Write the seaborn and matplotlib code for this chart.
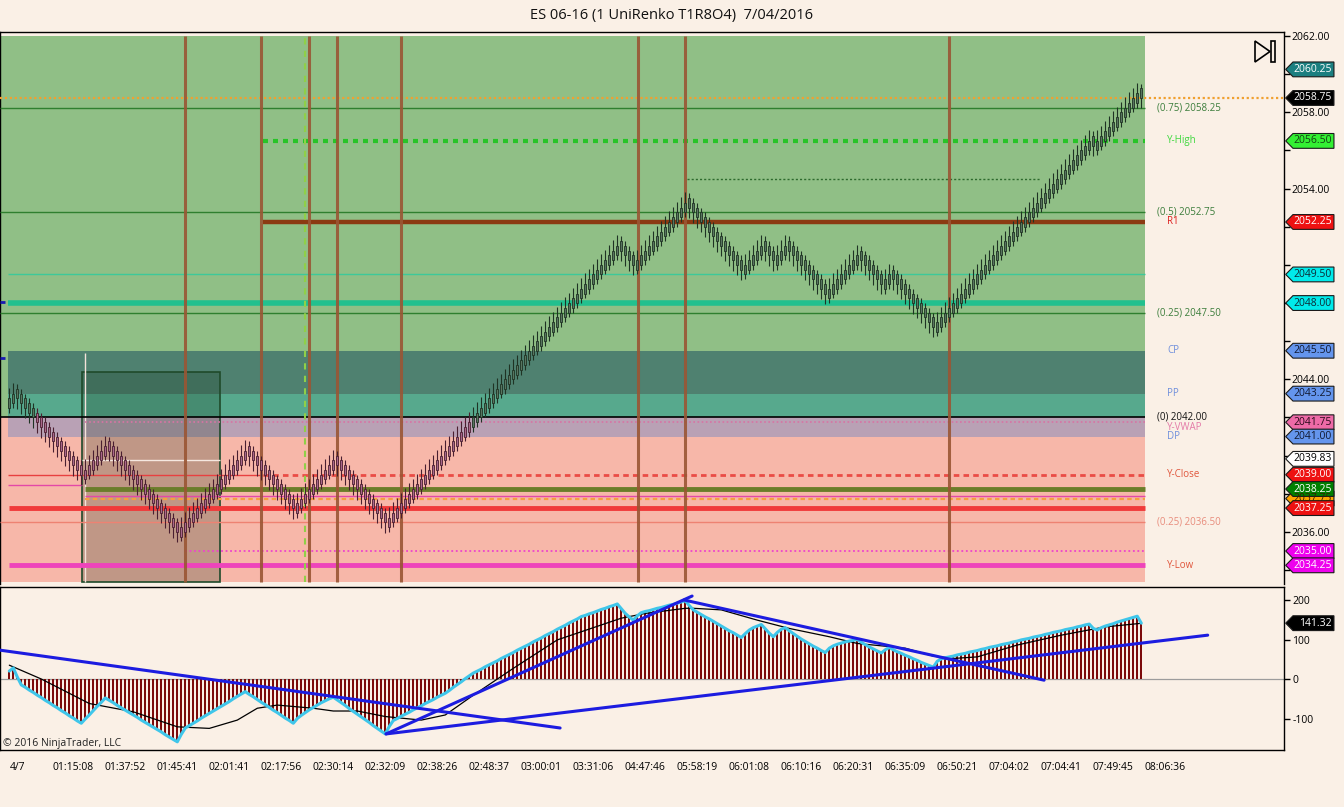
import numpy as np
import pandas as pd
import seaborn as sns
import matplotlib
matplotlib.use("Agg")
import matplotlib.pyplot as plt
from matplotlib.patches import Polygon, Rectangle
from matplotlib import transforms

TITLE = "ES 06-16 (1 UniRenko T1R8O4)  7/04/2016"

# renko closes, one per bar
closes = [
    2043.00, 2043.25,
    2043.00, 2042.75, 2042.50, 2042.25, 2042.00, 2041.75, 2041.50, 2041.25, 2041.00, 2040.75,
    2040.50, 2040.25, 2040.00, 2039.75, 2039.50, 2039.25, 2039.00,
    2039.25, 2039.50, 2039.75, 2040.00, 2040.25, 2040.50,
    2040.25, 2040.00, 2039.75, 2039.50, 2039.25, 2039.00, 2038.75, 2038.50, 2038.25, 2038.00,
    2037.75, 2037.50, 2037.25, 2037.00, 2036.75, 2036.50, 2036.25, 2036.00,
    2036.25, 2036.50, 2036.75, 2037.00, 2037.25, 2037.50, 2037.75, 2038.00, 2038.25, 2038.50,
    2038.75, 2039.00, 2039.25, 2039.50, 2039.75, 2040.00, 2040.25,
    2040.00, 2039.75, 2039.50, 2039.25, 2039.00, 2038.75, 2038.50, 2038.25, 2038.00, 2037.75,
    2037.50, 2037.25,
    2037.50, 2037.75, 2038.00, 2038.25, 2038.50, 2038.75, 2039.00, 2039.25, 2039.50, 2039.75,
    2039.50, 2039.25, 2039.00, 2038.75, 2038.50, 2038.25, 2038.00, 2037.75, 2037.50, 2037.25,
    2037.00, 2036.75, 2036.50,
    2036.75, 2037.00, 2037.25, 2037.50, 2037.75, 2038.00, 2038.25, 2038.50, 2038.75, 2039.00,
    2039.25, 2039.50, 2039.75, 2040.00, 2040.25, 2040.50, 2040.75, 2041.00, 2041.25, 2041.50,
    2041.75, 2042.00, 2042.25, 2042.50, 2042.75, 2043.00, 2043.25, 2043.50, 2043.75, 2044.00,
    2044.25, 2044.50, 2044.75, 2045.00, 2045.25, 2045.50, 2045.75, 2046.00, 2046.25, 2046.50,
    2046.75, 2047.00, 2047.25, 2047.50, 2047.75, 2048.00, 2048.25, 2048.50, 2048.75, 2049.00,
    2049.25, 2049.50, 2049.75, 2050.00, 2050.25, 2050.50, 2050.75, 2051.00,
    2050.75, 2050.50, 2050.25, 2050.00,
    2050.25, 2050.50, 2050.75, 2051.00, 2051.25, 2051.50, 2051.75, 2052.00, 2052.25, 2052.50,
    2052.75, 2053.00, 2053.25,
    2053.00, 2052.75, 2052.50, 2052.25, 2052.00, 2051.75, 2051.50, 2051.25, 2051.00, 2050.75,
    2050.50, 2050.25, 2050.00, 2049.75,
    2050.00, 2050.25, 2050.50, 2050.75, 2051.00,
    2050.75, 2050.50, 2050.25,
    2050.50, 2050.75, 2051.00,
    2050.75, 2050.50, 2050.25, 2050.00, 2049.75, 2049.50, 2049.25, 2049.00, 2048.75, 2048.50,
    2048.75, 2049.00, 2049.25, 2049.50, 2049.75, 2050.00, 2050.25, 2050.50,
    2050.25, 2050.00, 2049.75, 2049.50, 2049.25, 2049.00,
    2049.25, 2049.50,
    2049.25, 2049.00, 2048.75, 2048.50, 2048.25, 2048.00, 2047.75, 2047.50, 2047.25, 2047.00,
    2046.75,
    2047.00, 2047.25, 2047.50, 2047.75, 2048.00, 2048.25, 2048.50, 2048.75, 2049.00, 2049.25,
    2049.50, 2049.75, 2050.00, 2050.25, 2050.50, 2050.75, 2051.00, 2051.25, 2051.50, 2051.75,
    2052.00, 2052.25, 2052.50, 2052.75, 2053.00, 2053.25, 2053.50, 2053.75, 2054.00, 2054.25,
    2054.50, 2054.75, 2055.00, 2055.25, 2055.50, 2055.75, 2056.00, 2056.25, 2056.50,
    2056.25,
    2056.50, 2056.75, 2057.00, 2057.25, 2057.50, 2057.75, 2058.00, 2058.25, 2058.50, 2058.75,
    2059.00,
    2058.75,
]

# oscillator histogram, one value per bar
osc = [
    20, 28,
    5, -15, -21, -28, -34, -41, -47, -54, -60, -67, -73, -80, -86, -93, -99, -106, -112,
    -101, -91, -80, -69, -59, -48,
    -54, -60, -67, -73, -79, -85, -91, -97, -104, -110, -116, -122, -128, -134, -141, -147,
    -153, -159,
    -140, -124, -118, -112, -106, -99, -93, -87, -81, -75, -69, -63, -57, -50, -44, -38, -32,
    -39, -45, -52, -59, -65, -72, -79, -85, -92, -99, -105, -112,
    -100, -92, -85, -78, -72, -66, -60, -55, -50, -46,
    -53, -60, -67, -75, -82, -89, -96, -103, -110, -118, -125, -132, -139,
    -120, -105, -100, -94, -89, -84, -78, -73, -68, -62,
    -57, -52, -46, -41, -36, -29, -21, -14, -7, 1,
    8, 15, 20, 25, 31, 36, 41, 46, 52, 57,
    62, 67, 73, 78, 83, 88, 94, 99, 104, 110,
    115, 120, 126, 131, 136, 142, 147, 152, 158, 161,
    165, 168, 172, 176, 179, 183, 186, 190,
    178, 166, 157, 149,
    160, 168, 171, 173, 176, 179, 181, 184, 187, 189, 192, 195, 198,
    186, 175, 169, 163, 157, 152, 146, 140, 134, 128, 122, 117, 111, 105,
    115, 124, 130, 134, 138,
    127, 116, 107,
    118, 126, 130,
    122, 115, 108, 101, 95, 89, 83, 78, 72, 67,
    78, 84, 88, 91, 94, 96, 98, 100,
    93, 87, 81, 76, 71, 66,
    74, 80,
    74, 69, 65, 60, 56, 51, 47, 42, 38, 34, 30,
    45, 51, 54, 56, 58, 61, 63, 65, 68, 70,
    72, 75, 77, 80, 82, 84, 87, 89, 91, 94,
    96, 99, 101, 103, 106, 108, 110, 113, 115, 118,
    120, 122, 125, 127, 129, 132, 134, 137, 139,
    128,
    124, 130, 134, 137, 140, 144, 147, 150, 153, 156, 159,
    141.32,
]

# slow signal line of the oscillator, sampled
sig_bar = [0, 8, 20, 31, 42, 50, 57, 62, 67, 76, 81, 87, 94, 103, 109, 116, 126, 137, 153,
           159, 169, 171, 178, 187, 195, 205, 212, 224, 231, 236, 242, 252, 263, 274, 283]
sig_val = [35, 0, -62, -83, -121, -125, -104, -74, -66, -74, -81, -81, -95, -104, -91, -41, 27,
           99, 154, 166, 179, 179, 175, 149, 128, 107, 90, 78, 58, 52, 56, 86, 111, 132, 141]

# hand-drawn trend lines in the oscillator (bar, value) -> (bar, value)
trend_x0 = [-2.3, 94.2, 94.2, 168.7]
trend_y0 = [73, -139, -139, 200]
trend_x1 = [137.7, 170.7, 299.6, 258.7]
trend_y1 = [-124, 210, 111, -3]

time_ticks = [2, 16, 29, 42, 55, 68, 81, 94, 107, 120, 133, 146, 159, 172, 185, 198, 211,
              224, 237, 250, 263, 276, 289]
time_labels = ["4/7", "01:15:08", "01:37:52", "01:45:41", "02:01:41", "02:17:56", "02:30:14",
               "02:32:09", "02:38:26", "02:48:37", "03:00:01", "03:31:06", "04:47:46",
               "05:58:19", "06:01:08", "06:10:16", "06:20:31", "06:35:09", "06:50:21",
               "07:04:02", "07:04:41", "07:49:45", "08:06:36"]

price_ticks = [2034, 2036, 2038, 2040, 2042, 2044, 2046, 2048, 2050, 2052, 2054, 2056, 2058,
               2060, 2062]
osc_ticks = [-100, 0, 100, 200]

fib_prices = [2058.25, 2052.75, 2047.50, 2042.00, 2036.50]
fib_labels = ["(0.75) 2058.25", "(0.5) 2052.75", "(0.25) 2047.50", "(0) 2042.00",
              "(0.25) 2036.50"]
pivot_names = ["Y-High", "R1", "CP", "PP", "Y-VWAP", "DP", "Y-Close", "Y-Low"]
pivot_prices = [2056.50, 2052.25, 2045.50, 2043.25, 2041.75, 2041.00, 2039.00, 2034.25]

last_price = 2058.75
session_hi = 2054.50
ma_fast = 2049.50
ma_slow = 2048.00
y_close2 = 2038.25
y_orange = 2037.75
y_red2 = 2037.25
y_pink = 2038.45
y_pink2 = 2037.90
y_dots = 2035.00
box_top = 2044.40
box_mid = 2039.75

flag_prices = [2060.25, 2058.75, 2056.50, 2052.25, 2049.50, 2048.00, 2045.50, 2043.25, 2041.75,
               2041.00, 2039.83, 2039.00, 2037.75, 2038.25, 2037.25, 2035.00, 2034.25]
osc_last = 141.32

# vertical markers (bar positions)
vline_bars = [43.9, 62.9, 74.9, 81.9, 98.0, 157.2, 168.9, 234.9]
green_vline_bar = 73.9
day_start = 63.5
box_x0, box_x1 = 18.2, 52.7

# ---------------------------------------------------------------- styling
flag_face = ["#1b7f80", "#000000", "#33f033", "#ee1111", "#00eaea", "#00eaea", "#6495ed",
             "#6495ed", "#ee6aa7", "#6495ed", "#ffffff", "#ee1111", "#ffa500", "#008000",
             "#ee1111", "#ee00ee", "#ee00ee"]
flag_text = ["white", "white", "#124012", "white", "#0d2a36", "#0d2a36", "#101830",
             "#101830", "#2a0a1a", "#101830", "black", "white", "#3a2000", "white",
             "white", "white", "white"]
pivot_colors = ["#3ed83e", "#dd1c1c", "#6f8fdc", "#6f8fdc", "#e47aa8", "#6f8fdc",
                "#e0563c", "#e0563c"]
# small vertical nudges so overlapping labels stay readable
pivot_nudge = [0, 0, 0, 0, -0.3, 0, 0, 0]
fib_colors = ["#3b7d3b", "#3b7d3b", "#3b7d3b", "#111111", "#e88c7c"]

BG = "#faf0e6"
W, H = 1344, 807
XL, XR = -2.325, 318.675
ZONE_END = 284.0

sns.set_style("white")
plt.rcParams['font.family'] = ['Open Sans', 'DejaVu Sans']
plt.rcParams['axes.linewidth'] = 1.0

fig = plt.figure(figsize=(W / 100, H / 100), dpi=100, facecolor=BG)
ax = fig.add_axes([0, 1 - 584 / H, 1284 / W, 552 / H])
ax2 = fig.add_axes([0, 1 - 750 / H, 1284 / W, 163 / H])

YB, YT = 2033.27, 2062.21
ax.set_xlim(XL, XR)
ax.set_ylim(YB, YT)
ax.set_facecolor(BG)
ZB = 2033.38

# background zones
ax.fill_between([XL, ZONE_END], 2042.0, 2062.0, color="#90bf86", lw=0, zorder=0.2)
ax.fill_between([XL, ZONE_END], ZB, 2042.0, color="#f7b7a9", lw=0, zorder=0.2)
ax.fill_between([-0.4, ZONE_END], 2043.25, 2045.50, color="#4f8170", lw=0, zorder=0.3)
ax.fill_between([-0.4, ZONE_END], 2042.00, 2043.25, color="#57a98d", lw=0, zorder=0.3)
ax.fill_between([-0.4, ZONE_END], 2041.00, 2042.00, color="#b9a1b5", lw=0, zorder=0.3)

# opening box
ax.add_patch(Rectangle((box_x0, ZB), box_x1 - box_x0, box_top - ZB, facecolor=(0.08, 0.2, 0.1, 0.24),
                       edgecolor="#1f4a2a", lw=1.2, zorder=1))
ax.vlines(19.0, ZB, 2045.4, color="#f4e2da", lw=1, zorder=1.1)
ax.hlines(box_mid, box_x0, box_x1, color="#f6e8e0", lw=1, zorder=1.1)

# levels
fib_x0 = XL
for p in fib_prices[:3]:
    ax.hlines(p, fib_x0, ZONE_END, color="#2f7f2f", lw=1, zorder=3)
ax.hlines(fib_prices[3], fib_x0, ZONE_END, color="black", lw=1.2, zorder=3)
ax.hlines(fib_prices[4], fib_x0, ZONE_END, color="#ee8272", lw=1, zorder=3)

trans = transforms.blended_transform_factory(ax.transAxes, ax.transData)
ax.plot([0, 1.0013], [last_price, last_price], transform=trans, clip_on=False, color="#f0a030",
        lw=1.6, ls=(0, (1, 1.2)), zorder=3)
ax.hlines(pivot_prices[0], day_start, ZONE_END, color="#27c427", lw=3, ls=(0, (1.2, 1.2)), zorder=3)
ax.hlines(session_hi, 169.4, 257.7, color="#2d6a2d", lw=1, ls=(0, (1.5, 1.5)), zorder=3)
ax.hlines(pivot_prices[1], day_start, ZONE_END, color="#8b3a12", lw=3.2, zorder=3)
ax.hlines(ma_fast, -0.4, ZONE_END, color="#3cc99a", lw=1, zorder=3)
ax.hlines(ma_slow, -0.4, ZONE_END, color="#22c08e", lw=4, zorder=3)
ax.hlines(pivot_prices[4], 19.0, ZONE_END, color="#d874a4", lw=1.2, ls=(0, (1, 1.5)), zorder=3)
ax.hlines(pivot_prices[6], -0.4, day_start, color="#e84040", lw=1, zorder=3)
ax.hlines(pivot_prices[6], day_start, ZONE_END, color="#ea4c46", lw=2, ls=(0, (2, 1.5)), zorder=3)
ax.hlines(y_pink, -0.4, box_x0, color="#e448a8", lw=1, zorder=3)
ax.hlines(y_close2, 19.0, ZONE_END, color="#6b7d2a", lw=3.5, zorder=3)
ax.hlines(y_pink2, 19.0, ZONE_END, color="#e448a8", lw=1, zorder=3)
ax.hlines(y_orange, 19.0, ZONE_END, color="#f5a040", lw=1.6, ls=(0, (2, 1.5)), zorder=3)
ax.hlines(y_red2, 0.0, ZONE_END, color="#f03a3a", lw=3.5, zorder=3)
ax.hlines(y_dots, 44.0, ZONE_END, color="#ee44cc", lw=1.3, ls=(0, (1, 1.5)), zorder=3)
ax.hlines(pivot_prices[7], 0.0, ZONE_END, color="#ee44bb", lw=3.5, zorder=3)
ax.hlines([2048.05, 2045.1], XL, XL + 1.2, color="#1a1ab0", lw=2, zorder=3)

# vertical session lines
ax.vlines(vline_bars, ZB, 2062.0, color="#9a5634", lw=2.2, alpha=0.9, zorder=4)
ax.vlines(green_vline_bar, ZB, 2062.0, color="#8fd048", lw=1.5, ls=(0, (3, 3)), zorder=4)

# candles
c = np.array(closes)
bars = np.arange(len(c))
prev = np.r_[c[0] - 0.25, c[:-1]]
up = c > prev
BODY = 0.5
o = np.where(up, c - BODY, c + BODY)
hi = np.where(up, c + 0.55, o + 0.25)
lo = np.where(up, o - 0.25, c - 0.55)
green = c >= 2042.0
body_col = np.where(green, "#587560", "#a9668a")
edge_col = np.where(green, "#1f3324", "#4a1f30")
ax.vlines(bars, lo, hi, colors=edge_col, lw=0.8, zorder=5)
ax.bar(bars, np.abs(c - o), bottom=np.minimum(c, o), width=0.5, color=body_col,
       edgecolor=edge_col, lw=0.6, zorder=6)

# right side labels
for p, t, col in zip(fib_prices, fib_labels, fib_colors):
    ax.text(0.9011, p, t, transform=trans, fontsize=7, color=col, va="center", ha="left", zorder=8)
for p, t, col, dy in zip(pivot_prices, pivot_names, pivot_colors, pivot_nudge):
    ax.text(0.9089, p + dy, t, transform=trans, fontsize=7, color=col, va="center", ha="left",
            zorder=7.9)


def flag(axis, tr, y, hh, face, tcol, label):
    pts = [(1.0013, y), (1.0070, y + hh), (1.0389, y + hh), (1.0389, y - hh), (1.0070, y - hh)]
    axis.add_patch(Polygon(pts, closed=True, transform=tr, clip_on=False, facecolor=face,
                           edgecolor="#1a1a1a", lw=0.8, zorder=20))
    axis.text(1.0372, y, label, transform=tr, clip_on=False, ha="right", va="center",
              fontsize=7.5, color=tcol, zorder=21)


for p, fc, tc in zip(flag_prices, flag_face, flag_text):
    flag(ax, trans, p, 7.4 / 19.077, fc, tc, f"{p:.2f}")

# tick labels hidden under a price flag are left blank
price_labels = [f"{t:.2f}" if min(abs(t - f) for f in flag_prices) > 0.6 else ""
                for t in price_ticks]
ax.set_xticks([])
ax.yaxis.tick_right()
ax.set_yticks(price_ticks)
ax.set_yticklabels(price_labels)
ax.tick_params(axis="y", length=4, width=1, labelsize=7.5, pad=1.5, colors="black")
ax.spines["bottom"].set_visible(False)
for s in ["left", "top", "right"]:
    ax.spines[s].set_color("black")

# ---------------------------------------------------------------- oscillator
ax2.set_facecolor(BG)
ax2.set_xlim(XL, XR)
ax2.set_ylim(-179.7, 232.9)
ax2.axhline(0, color="#9c9c9c", lw=0.9, zorder=1)
ax2.bar(bars, osc, width=0.5, color="#7b0a0a", lw=0, zorder=2)
osc_df = pd.DataFrame({"bar": bars, "osc": osc})
sns.lineplot(data=osc_df, x="bar", y="osc", ax=ax2, color="#3fc6ea", lw=2.2, sort=False, zorder=4)
sns.lineplot(x=sig_bar, y=sig_val, ax=ax2, color="black", lw=0.9, sort=False, zorder=3)
for x0, y0, x1, y1 in zip(trend_x0, trend_y0, trend_x1, trend_y1):
    ax2.plot([x0, x1], [y0, y1], color="#1c1ce0", lw=2.2, zorder=5)
ax2.set_xlabel("")
ax2.set_ylabel("")
ax2.yaxis.tick_right()
ax2.set_yticks(osc_ticks)
ax2.set_yticklabels([str(t) for t in osc_ticks])
ax2.set_xticks(time_ticks)
ax2.set_xticklabels(time_labels)
ax2.tick_params(axis="both", length=4, width=1, labelsize=7.5, pad=2, colors="black")
ax2.tick_params(axis="x", pad=5)
for s in ax2.spines.values():
    s.set_color("black")
trans2 = transforms.blended_transform_factory(ax2.transAxes, ax2.transData)
flag(ax2, trans2, osc_last, 7.4 / 0.395, "#000000", "white", f"{osc_last:.2f}")
ax2.text(0.0023, 0.037, "\u00a9 2016 NinjaTrader, LLC", transform=ax2.transAxes, fontsize=7.5,
         va="center", ha="left", color="#222222", zorder=9)

# title and the small play-to-end icon
fig.text(672 / W, 1 - 16 / H, TITLE, ha="center", va="center", fontsize=10.5, color="#111111")


def fp(x, y):
    return (x / W, 1 - y / H)


fig.add_artist(Polygon([fp(1255, 41), fp(1255, 62), fp(1270, 51.5)], closed=True, fill=False,
                       edgecolor="black", lw=1.2, transform=fig.transFigure))
fig.add_artist(Polygon([fp(1271, 41), fp(1275, 41), fp(1275, 62), fp(1271, 62)], closed=True,
                       fill=False, edgecolor="black", lw=1.2, transform=fig.transFigure))

fig.savefig("out.png", dpi=100, facecolor=BG)
